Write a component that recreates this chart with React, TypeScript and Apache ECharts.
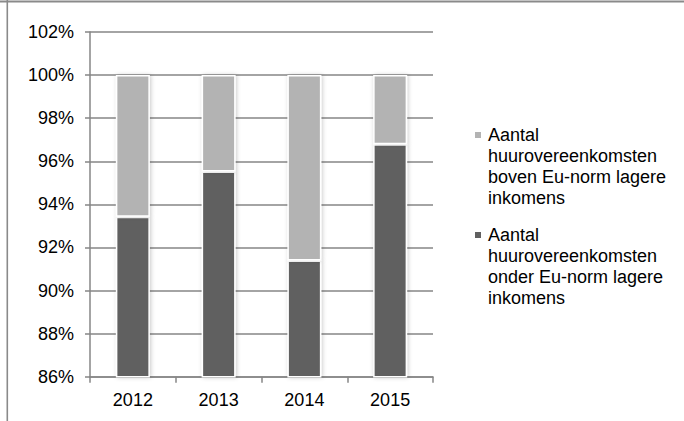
import React, { useEffect, useRef } from "react";
import * as echarts from "echarts";

// Share of rental agreements per year, split by the EU income norm (percent of total)
const years = ["2012", "2013", "2014", "2015"];
const onderNorm = [93.43, 95.52, 91.39, 96.79];
const bovenNorm = [6.57, 4.48, 8.61, 3.21];

const seriesNames = [
  "Aantal huurovereenkomsten onder Eu-norm lagere inkomens",
  "Aantal huurovereenkomsten boven Eu-norm lagere inkomens",
];
const legendLines = [
  ["Aantal", "huurovereenkomsten", "boven Eu-norm lagere", "inkomens"],
  ["Aantal", "huurovereenkomsten", "onder Eu-norm lagere", "inkomens"],
];

const DARK = "#606060";
const LIGHT = "#b3b3b3";
const FONT = "'Liberation Sans', Arial, sans-serif";
const FONT_SIZE = 18;

export default function App() {
  const ref = useRef<HTMLDivElement>(null);

  useEffect(() => {
    if (!ref.current) return;
    const chart = echarts.init(ref.current, null, { renderer: "svg" });

    const barStyle = (color: string) => ({
      color,
      borderColor: "#ffffff",
      borderWidth: 1.5,
      shadowBlur: 4,
      shadowColor: "rgba(0,0,0,0.22)",
      shadowOffsetX: 1,
      shadowOffsetY: 0,
    });

    // Legend drawn as graphic elements so that the marker sits on the first text line
    const legendColors = [LIGHT, DARK];
    const legendTops = [129, 229];
    const legendGraphics: any[] = [];
    legendLines.forEach((lines, i) => {
      legendGraphics.push({
        type: "rect",
        shape: { x: 475, y: legendTops[i] + 3, width: 6, height: 6 },
        style: { fill: legendColors[i] },
      });
      legendGraphics.push({
        type: "text",
        x: 488,
        y: legendTops[i] - 5,
        style: {
          text: lines.join("\n"),
          font: `${FONT_SIZE}px ${FONT}`,
          lineHeight: 21,
          fill: "#000000",
          textVerticalAlign: "top",
        },
      });
    });

    chart.setOption({
      animation: false,
      backgroundColor: "#ffffff",
      textStyle: { fontFamily: FONT },
      grid: { left: 90, right: 251, top: 32, bottom: 44.3 },
      xAxis: {
        type: "category",
        data: years,
        axisLine: { lineStyle: { color: "#868686", width: 1.5 } },
        axisTick: { show: true, length: 6, lineStyle: { color: "#868686", width: 1.5 } },
        axisLabel: { color: "#000000", fontSize: FONT_SIZE, margin: 14, fontFamily: FONT },
      },
      yAxis: {
        type: "value",
        min: 86,
        max: 102,
        interval: 2,
        axisLine: { show: true, lineStyle: { color: "#868686", width: 1.5 } },
        axisTick: { show: true, length: 5, lineStyle: { color: "#868686", width: 1.5 } },
        axisLabel: {
          color: "#000000",
          fontSize: FONT_SIZE,
          margin: 16,
          fontFamily: FONT,
          formatter: "{value}%",
        },
        splitLine: { show: true, lineStyle: { color: "#868686", width: 1.5 } },
      },
      series: [
        {
          name: seriesNames[0],
          type: "bar",
          stack: "total",
          barWidth: 34,
          data: onderNorm,
          itemStyle: barStyle(DARK),
        },
        {
          name: seriesNames[1],
          type: "bar",
          stack: "total",
          barWidth: 34,
          data: bovenNorm,
          itemStyle: barStyle(LIGHT),
        },
      ],
      graphic: [
        {
          type: "rect",
          shape: { x: 0, y: 0.5, width: 684, height: 2 },
          style: { fill: "#8a8a8a" },
        },
        {
          type: "rect",
          shape: { x: 6.5, y: 0, width: 1.6, height: 421 },
          style: { fill: "#8a8a8a" },
        },
        ...legendGraphics,
      ],
    });

    return () => chart.dispose();
  }, []);

  return (
    <div
      ref={ref}
      style={{ position: "fixed", left: 0, top: 0, width: 684, height: 421 }}
    />
  );
}
